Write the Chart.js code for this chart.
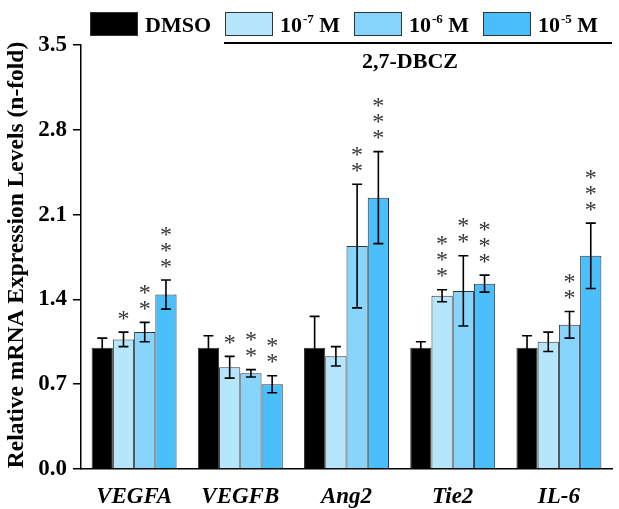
<!DOCTYPE html>
<html>
<head>
<meta charset="utf-8">
<script src="https://cdn.jsdelivr.net/npm/chart.js@4.4.0/dist/chart.umd.min.js"></script>
<style>
  body { margin: 0; background: #fff; }
  #wrap { width: 619px; height: 509px; }
</style>
</head>
<body>
<div id="wrap"><canvas id="myChart" width="619" height="509"></canvas></div>
<script>
var genes = ['VEGFA', 'VEGFB', 'Ang2', 'Tie2', 'IL-6'];
var yTicks = [0, 0.7, 1.4, 2.1, 2.8, 3.5];

var dmso   = [1.00, 1.00, 1.00, 1.00, 1.00];
var dmsoEr = [0.08, 0.10, 0.26, 0.05, 0.10];
var m7     = [1.07, 0.84, 0.93, 1.43, 1.05];
var m7Er   = [0.06, 0.09, 0.08, 0.05, 0.08];
var m6     = [1.13, 0.79, 1.84, 1.47, 1.19];
var m6Er   = [0.08, 0.03, 0.51, 0.29, 0.11];
var m5     = [1.44, 0.70, 2.24, 1.53, 1.76];
var m5Er   = [0.12, 0.07, 0.38, 0.07, 0.27];

// number of asterisks above each bar
var sig7 = [1, 1, 0, 3, 0];
var sig6 = [2, 2, 2, 2, 2];
var sig5 = [3, 2, 3, 3, 3];

var errs = [dmsoEr, m7Er, m6Er, m5Er];
var sigs = [[0,0,0,0,0], sig7, sig6, sig5];

var serif = '"Liberation Serif", "Times New Roman", serif';

var extras = {
	id: 'extras',
	afterDatasetsDraw: function(chart) {
		var ctx = chart.ctx;
		var y = chart.scales.y;
		ctx.save();
		ctx.font = '24px ' + serif;
		var m = ctx.measureText('*');
		var off = (m.actualBoundingBoxAscent - m.actualBoundingBoxDescent) / 2;
		chart.data.datasets.forEach(function(ds, di) {
			var meta = chart.getDatasetMeta(di);
			meta.data.forEach(function(bar, i) {
				var v = ds.data[i], e = errs[di][i];
				var top = y.getPixelForValue(v + e);
				var bot = y.getPixelForValue(v - e);
				ctx.strokeStyle = '#000';
				ctx.lineWidth = 1.6;
				ctx.beginPath();
				ctx.moveTo(bar.x, top); ctx.lineTo(bar.x, bot);
				ctx.moveTo(bar.x - 5, top); ctx.lineTo(bar.x + 5, top);
				ctx.moveTo(bar.x - 5, bot); ctx.lineTo(bar.x + 5, bot);
				ctx.stroke();
				ctx.fillStyle = '#333';
				ctx.textAlign = 'center';
				ctx.textBaseline = 'alphabetic';
				for (var k = 0; k < sigs[di][i]; k++) {
					ctx.fillText('*', bar.x, top - 17 - k * 16 + off);
				}
			});
		});
		ctx.restore();
	},
	afterDraw: function(chart) {
		var ctx = chart.ctx;
		ctx.save();
		// y title
		ctx.fillStyle = '#000';
		ctx.font = 'bold 23.5px ' + serif;
		ctx.textAlign = 'center';
		ctx.textBaseline = 'middle';
		ctx.translate(17, 255);
		ctx.rotate(-Math.PI / 2);
		ctx.fillText('Relative mRNA Expression Levels (n-fold)', 0, 0);
		ctx.restore();

		// legend
		ctx.save();
		var items = [
			{x: 90, c: '#000', t: ['DMSO']},
			{x: 225, c: chart.data.datasets[1].backgroundColor, t: ['10', '-7', ' M']},
			{x: 354, c: chart.data.datasets[2].backgroundColor, t: ['10', '-6', ' M']},
			{x: 483, c: chart.data.datasets[3].backgroundColor, t: ['10', '-5', ' M']}
		];
		items.forEach(function(it) {
			ctx.fillStyle = it.c;
			ctx.fillRect(it.x, 12, 48, 24);
			ctx.strokeStyle = '#333';
			ctx.lineWidth = 1;
			ctx.strokeRect(it.x + 0.5, 12.5, 47, 23);
			ctx.fillStyle = '#000';
			ctx.textAlign = 'left';
			ctx.textBaseline = 'alphabetic';
			var tx = it.x + 55;
			ctx.font = 'bold 22px ' + serif;
			ctx.fillText(it.t[0], tx, 32);
			tx += ctx.measureText(it.t[0]).width;
			if (it.t.length > 1) {
				ctx.font = 'bold 13px ' + serif;
				ctx.fillText(it.t[1], tx + 1, 23);
				tx += ctx.measureText(it.t[1]).width + 1;
				ctx.font = 'bold 22px ' + serif;
				ctx.fillText(it.t[2], tx, 32);
			}
		});
		ctx.strokeStyle = '#000';
		ctx.lineWidth = 2;
		ctx.beginPath();
		ctx.moveTo(224, 43); ctx.lineTo(612, 43);
		ctx.stroke();
		ctx.font = 'bold 22px ' + serif;
		ctx.textAlign = 'center';
		ctx.textBaseline = 'middle';
		ctx.fillText('2,7-DBCZ', 410, 62);
		ctx.restore();
	}
};

var ctx = document.getElementById('myChart');

var chart = new Chart(ctx, {
	type: 'bar',
	data: {
		labels: genes,
		datasets: [
			{ label: 'DMSO', data: dmso, backgroundColor: '#000000' },
			{ label: '10-7 M', data: m7, backgroundColor: '#b5e6fb' },
			{ label: '10-6 M', data: m6, backgroundColor: '#87d5fc' },
			{ label: '10-5 M', data: m5, backgroundColor: '#4bbefc' }
		]
	},
	options: {
		responsive: false,
		animation: false,
		layout: { padding: { top: 45, right: 7, left: 0, bottom: 0 } },
		datasets: {
			bar: {
				borderColor: '#333',
				borderWidth: 1,
				categoryPercentage: 0.8,
				barPercentage: 1
			}
		},
		plugins: {
			legend: { display: false },
			tooltip: { enabled: false }
		},
		scales: {
			x: {
				grid: { display: false, drawTicks: false },
				border: { display: true, color: '#000', width: 1.5 },
				ticks: {
					color: '#000',
					padding: 14,
					font: { family: serif, size: 23, weight: 'bold', style: 'italic' }
				},
				afterFit: function(s) { s.height = 40; }
			},
			y: {
				min: 0,
				max: 3.5,
				afterBuildTicks: function(s) {
					s.ticks = yTicks.map(function(v) { return { value: v }; });
				},
				grid: { drawOnChartArea: false, drawTicks: true, tickLength: 8, color: '#000', lineWidth: 1.5 },
				border: { display: true, color: '#000', width: 1.5 },
				ticks: {
					color: '#000',
					padding: 6,
					font: { family: serif, size: 23, weight: 'bold' },
					callback: function(v) { return Number(v).toFixed(1); }
				},
				afterFit: function(s) { s.width = 81; }
			}
		}
	},
	plugins: [extras]
});
</script>
</body>
</html>
